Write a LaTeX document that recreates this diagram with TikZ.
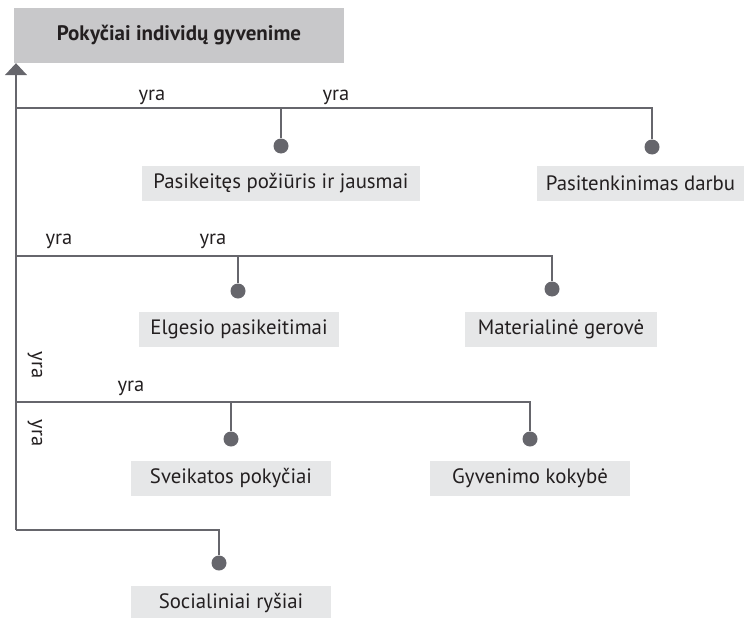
\documentclass[tikz,border=0pt]{standalone}
\usepackage{fontspec}
\setmainfont{PT Sans}
\usetikzlibrary{arrows.meta}
\definecolor{linegray}{RGB}{102,102,108}
\definecolor{titlefill}{RGB}{200,200,202}
\definecolor{boxfill}{RGB}{230,231,232}
\definecolor{ink}{RGB}{35,31,32}
\begin{document}
\begin{tikzpicture}[x=1pt,y=-1pt,
  every node/.style={text=ink},
  titlebox/.style={fill=titlefill, minimum width=330pt, minimum height=55pt,
    inner sep=0pt, font=\fontsize{21}{24}\selectfont\bfseries},
  itembox/.style={fill=boxfill, minimum height=35pt, inner sep=0pt,
    font=\fontsize{20.8}{24}\selectfont},
  dot/.style={circle, fill=linegray, minimum size=15pt, inner sep=0pt},
  conn/.style={draw=linegray, line width=1.6pt},
  rel/.style={font=\fontsize{20.5}{23}\selectfont, inner sep=0pt, anchor=base},
  relv/.style={font=\fontsize{20.5}{23}\selectfont, inner sep=0pt, rotate=-90}]
\useasboundingbox (0,0) rectangle (744,618);

% top concept
\node[titlebox] (title) at (179,35.5) {Pokyčiai individų gyvenime};

% junctions on the trunk
\coordinate (j1) at (16,108);
\coordinate (j2) at (16,256);
\coordinate (j3) at (16,402);
\coordinate (j4) at (16,530);

% concept boxes
\node[itembox, minimum width=278pt] (b1) at (281,183.5) {Pasikeitęs požiūris ir jausmai};
\node[itembox, minimum width=207pt] (b2) at (640.5,183.5) {Pasitenkinimas darbu};
\node[itembox, minimum width=200pt] (b3) at (239,329.5) {Elgesio pasikeitimai};
\node[itembox, minimum width=192pt] (b4) at (561,329.5) {Materialinė gerovė};
\node[itembox, minimum width=200pt] (b5) at (231,478.5) {Sveikatos pokyčiai};
\node[itembox, minimum width=200pt] (b6) at (530,478.5) {Gyvenimo kokybė};
\node[itembox, minimum width=200pt] (b7) at (231,603.5) {Socialiniai ryšiai};

% end points of the branches
\node[dot] (d1) at (281,146) {};
\node[dot] (d2) at (652,147) {};
\node[dot] (d3) at (238,291) {};
\node[dot] (d4) at (552,289) {};
\node[dot] (d5) at (231,439) {};
\node[dot] (d6) at (530,439) {};
\node[dot] (d7) at (219,563) {};

% trunk with arrow into the top concept
\draw[conn, -{Triangle[length=12pt, width=22pt]}] (j4) -- (j4 |- title.south);

% branches
\draw[conn] (j1) -| (d2.north);
\draw[conn] (d1 |- j1) -- (d1.north);
\draw[conn] (j2) -| (d4.north);
\draw[conn] (d3 |- j2) -- (d3.north);
\draw[conn] (j3) -| (d6.north);
\draw[conn] (d5 |- j3) -- (d5.north);
\draw[conn] (j4) -| (d7.north);

% relation labels
\node[rel] (r1) at (152,100) {yra};
\node[rel] (r2) at (336,100) {yra};
\node[rel] (r3) at (59,244) {yra};
\node[rel] (r4) at (213,244) {yra};
\node[rel] (r5) at (131,391) {yra};
\node[relv] (r6) at (35,365) {yra};
\node[relv] (r7) at (35,433) {yra};
\end{tikzpicture}
\end{document}
